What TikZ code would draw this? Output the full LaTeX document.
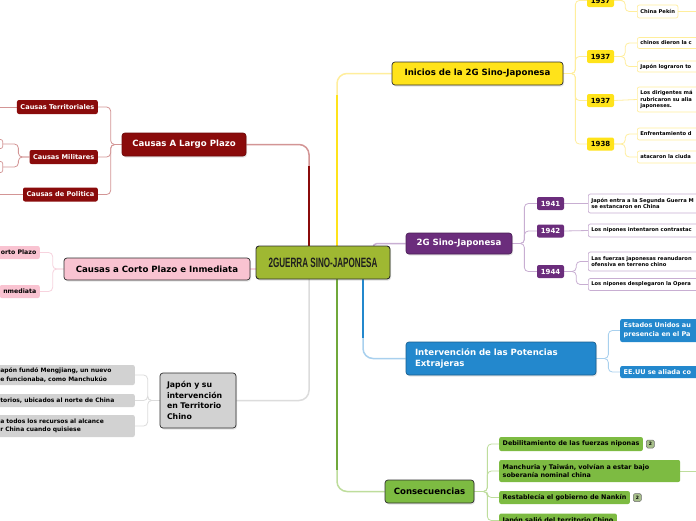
\documentclass[tikz,border=0pt]{standalone}
\usepackage{fontspec}
\usepackage{graphicx}
\setmainfont{DejaVu Sans}
\newfontfamily\titlefont{Liberation Sans}
\usetikzlibrary{positioning, backgrounds, shadows}
\definecolor{MapInk}{HTML}{1E1E1E}
\definecolor{MapEdge}{HTML}{2E2E2E}
\definecolor{MapOlive}{HTML}{9FB832}
\definecolor{MapRed}{HTML}{8A0B0B}
\definecolor{MapRedLine}{HTML}{D39595}
\definecolor{MapPink}{HTML}{F9C3D1}
\definecolor{MapPinkLine}{HTML}{F7D3DE}
\definecolor{MapGray}{HTML}{D2D2D2}
\definecolor{MapGrayLine}{HTML}{DCDCDC}
\definecolor{MapYellow}{HTML}{FFE31A}
\definecolor{MapYellowLine}{HTML}{FFEE9C}
\definecolor{MapPurple}{HTML}{6B2D7C}
\definecolor{MapPurpleLine}{HTML}{C8AED2}
\definecolor{MapBlue}{HTML}{2388CD}
\definecolor{MapBlueLine}{HTML}{A8D0EE}
\definecolor{MapGreen}{HTML}{7DBB42}
\definecolor{MapGreenLine}{HTML}{BEDD9C}
\definecolor{MapBadge}{HTML}{A7BF8A}
\newcommand\fsmain{\fontsize{8.6}{10.7}\selectfont\bfseries}
\newcommand\fsjp{\fontsize{7.8}{10.8}\selectfont\bfseries}
\newcommand\fsred{\fontsize{6.6}{8}\selectfont\bfseries}
\newcommand\fspink{\fontsize{6.2}{7.5}\selectfont\bfseries}
\newcommand\fsgray{\fontsize{6}{8.2}\selectfont\bfseries}
\newcommand\fsyear{\fontsize{7}{8}\selectfont\bfseries}
\newcommand\fsleaf{\fontsize{5.2}{6.4}\selectfont\bfseries}
\newcommand\fsblue{\fontsize{6.5}{8.8}\selectfont\bfseries}
\newcommand\fsgreen{\fontsize{6.4}{8.8}\selectfont\bfseries}
\tikzset{
    every node/.style={font=\fsmain},
    % central topic
    topic/.style={
        rectangle,
        rounded corners=3pt,
        draw=MapEdge,
        line width=0.9pt,
        inner sep=0pt,
        drop shadow={opacity=0.25, shadow xshift=1pt, shadow yshift=-1.5pt}
    },
    % main branch box
    branch/.style={
        rectangle,
        rounded corners=3pt,
        draw=MapEdge,
        line width=0.7pt,
        inner sep=0pt,
        font=\fsmain,
        drop shadow={opacity=0.2, shadow xshift=1pt, shadow yshift=-1.5pt}
    },
    % filled sub-topic
    subtopic/.style={
        rectangle,
        rounded corners=2pt,
        fill=#1,
        inner xsep=3.5pt,
        inner ysep=1pt,
        align=left
    },
    % year box
    yearbox/.style={
        rectangle,
        rounded corners=2pt,
        fill=#1,
        minimum width=27pt,
        minimum height=13pt,
        inner sep=0pt,
        font=\fsyear
    },
    % outlined leaf
    leaf/.style={
        rectangle,
        rounded corners=2pt,
        draw=#1,
        fill=white,
        line width=0.7pt,
        anchor=west,
        align=left,
        inner xsep=3pt,
        inner ysep=1pt,
        font=\fsleaf
    },
    % counter badge
    badge/.style={
        rectangle,
        rounded corners=1.5pt,
        draw=MapEdge!70,
        fill=MapBadge,
        line width=0.5pt,
        minimum size=8pt,
        inner sep=0pt,
        font=\fontsize{4.5}{5}\selectfont\bfseries
    },
    % connectors
    mainlink/.style={draw=#1, line width=1.5pt, rounded corners=10pt},
    sublink/.style={draw=#1, line width=0.8pt, rounded corners=4pt}
}
\begin{document}
\begin{tikzpicture}[x=1pt, y=-1pt]
    \useasboundingbox (0,0) rectangle (696,520);

    % Central topic
    \node (war) [topic, fill=MapOlive, minimum width=134pt, minimum height=33pt] at (323,262.5)
        {\titlefont\bfseries\fontsize{13.5}{14}\selectfont\color{MapInk}\scalebox{0.6}[1]{2GUERRA SINO-JAPONESA}};

    % Causas A Largo Plazo
    \node (lp) [branch, fill=MapRed, draw=MapRed!80!black, text=white, minimum width=124pt, minimum height=23pt] at (184,144.5) {Causas A Largo Plazo};
    \node (ct) [subtopic=MapRed, text=white, font=\fsred, minimum height=14pt, anchor=east] at (98,107) {Causas Territoriales};
    \node (cm) [subtopic=MapRed, text=white, font=\fsred, minimum height=14pt, anchor=east] at (98,157) {Causas Militares};
    \node (cpo) [subtopic=MapRed, text=white, font=\fsred, minimum height=14pt, anchor=east] at (98,194.5) {Causas de Politica};
    \node (mil1) [leaf=MapRedLine, anchor=east, minimum width=30pt, minimum height=9pt] at (3,144) {};
    \node (mil2) [leaf=MapRedLine, anchor=east, minimum width=30pt, minimum height=11pt] at (3,167) {};
    \coordinate (ctout) at (-10,107);
    \coordinate (cpoout) at (-10,194.5);

    % Causas a Corto Plazo
    \node (cp) [branch, fill=MapPink, minimum width=186pt, minimum height=22pt] at (157,269) {Causas a Corto Plazo e Inmediata};
    \node (cpa) [subtopic=MapPink, font=\fspink, minimum height=13pt, anchor=east] at (40,252.5) {orto Plazo};
    \node (cpb) [subtopic=MapPink, font=\fspink, minimum height=13pt, anchor=east] at (40,291.5) {nmediata};

    % Japon en territorio chino
    \node (jp) [branch, fill=MapGray, font=\fsjp, align=left, text width=62pt, minimum width=76pt, minimum height=55pt] at (198,400.5)
        {Japón y su\\intervención\\en Territorio\\Chino};
    \node (g1) [subtopic=MapGray, font=\fsgray, text width=131pt, minimum height=20pt, anchor=east] at (135,375)
        {apón fundó Mengjiang, un nuevo\\e funcionaba, como Manchukúo};
    \node (g2) [subtopic=MapGray, font=\fsgray, text width=131pt, minimum height=13pt, anchor=east] at (135,400.5)
        {torios, ubicados al norte de China};
    \node (g3) [subtopic=MapGray, font=\fsgray, text width=131pt, minimum height=22pt, anchor=east] at (135,426)
        {a todos los recursos al alcance\\r China cuando quisiese};

    % Inicios de la 2G
    \node (ini) [branch, fill=MapYellow, minimum width=171pt, minimum height=23pt] at (477.5,73.5) {Inicios de la 2G Sino-Japonesa};
    \node (ya) [yearbox=MapYellow] at (600.5,0.5) {1937};
    \node (yb) [yearbox=MapYellow] at (600.5,56.5) {1937};
    \node (yc) [yearbox=MapYellow] at (600.5,100.5) {1937};
    \node (yd) [yearbox=MapYellow] at (600.5,144) {1938};
    \coordinate (yaup) at (637,-20);
    \node (pek) [leaf=MapYellowLine, minimum height=13pt] at (637,11.5) {China Pekín};
    \coordinate (pekout) at (705,11.5);
    \node (chin) [leaf=MapYellowLine, text width=74pt, minimum height=11pt] at (637,43) {chinos dieron la c};
    \node (logr) [leaf=MapYellowLine, text width=74pt, minimum height=11pt] at (637,66.5) {Japón lograron to};
    \node (diri) [leaf=MapYellowLine, text width=74pt, minimum height=25pt] at (637,99.5) {Los dirigentes má\\rubricaron su alia\\japoneses.};
    \node (enfr) [leaf=MapYellowLine, text width=74pt, minimum height=12pt] at (637,134) {Enfrentamiento d};
    \node (atac) [leaf=MapYellowLine, text width=74pt, minimum height=12pt] at (637,157) {atacaron la ciuda};

    % 2G Sino-Japonesa
    \node (sj) [branch, fill=MapPurple, draw=MapPurple!70!black, text=white, minimum width=106pt, minimum height=21pt] at (459,243.5) {2G Sino-Japonesa};
    \node (p41) [yearbox=MapPurple, text=white] at (550.5,203.5) {1941};
    \node (p42) [yearbox=MapPurple, text=white] at (550.5,231) {1942};
    \node (p44) [yearbox=MapPurple, text=white] at (550.5,271.5) {1944};
    \node (entra) [leaf=MapPurpleLine, text width=104pt, minimum height=19pt] at (588,203.5) {Japón entra a la Segunda Guerra M\\se estancaron en China};
    \node (inten) [leaf=MapPurpleLine, text width=104pt, minimum height=13pt] at (588,230.5) {Los nipones intentaron contrastac};
    \node (reanu) [leaf=MapPurpleLine, text width=104pt, minimum height=19pt] at (588,261.5) {Las fuerzas japonesas reanudaron\\ofensiva en terreno chino};
    \node (despl) [leaf=MapPurpleLine, text width=104pt, minimum height=12pt] at (588,284.5) {Los nipones desplegaron la Opera};

    % Intervencion extranjera
    \node (ip) [branch, fill=MapBlue, draw=MapBlue!70!black, text=white, align=left, text width=172pt, minimum width=190pt, minimum height=33pt] at (501,358.5)
        {Intervención de las Potencias\\Extrajeras};
    \node (eua) [subtopic=MapBlue, text=white, font=\fsblue, anchor=west, text width=74pt, minimum height=23pt] at (620,330.5) {Estados Unidos au\\presencia en el Pa};
    \node (eub) [subtopic=MapBlue, text=white, font=\fsblue, anchor=west, text width=74pt, minimum height=12pt] at (620,372) {EE.UU se aliada co};

    % Consecuencias
    \node (cs) [branch, fill=MapGreen, minimum width=89pt, minimum height=23pt] at (429.5,491.5) {Consecuencias};
    \node (deb) [subtopic=MapGreen, font=\fsgreen, anchor=west, minimum height=14pt] at (499,444) {Debilitamiento de las fuerzas niponas};
    \node (deb2) [badge, right=3pt of deb] {2};
    \node (man) [subtopic=MapGreen, font=\fsgreen, anchor=west, text width=174pt, minimum height=22pt] at (499,471) {Manchuria y Taiwán, volvían a estar bajo\\soberanía nominal china};
    \coordinate (manout) at (705,471);
    \node (nan) [subtopic=MapGreen, font=\fsgreen, anchor=west, minimum height=13pt] at (499,497.5) {Restablecía el gobierno de Nankín};
    \node (nan2) [badge, right=3pt of nan] {2};
    \node (sal) [subtopic=MapGreen, font=\fsgreen, anchor=west, minimum height=14pt] at (499,520.5) {Japón salió del territorio Chino};

    \begin{scope}[on background layer]
        \fill[white] (0,0) rectangle (696,520);
        % links from the central topic
        \draw[mainlink=MapRedLine] (309,246) |- (lp.east);
        \draw[MapRed, line width=1.8pt] (309,246) -- (309,166);
        \draw[mainlink=MapYellowLine] (337,246) |- (ini.west);
        \draw[MapYellow, line width=1.6pt] (337,246) -- (337,95);
        \draw[mainlink=MapPurpleLine, rounded corners=4pt] (373,252) |- (sj.west);
        \draw[mainlink=MapPinkLine] (cp.east) -- (war.west |- cp.east);
        \draw[mainlink=MapGrayLine] (309,279) |- (jp.east);
        \draw[mainlink=MapBlueLine] (363,279) |- (ip.west);
        \draw[MapBlue, line width=1.6pt] (363,279) -- (363,338);
        \draw[mainlink=MapGreenLine] (337,279) |- (cs.west);
        \draw[MapGreen!90!black, line width=1.6pt] (337,279) -- (337,470);

        % branch brackets
        \foreach \c in {ct,cm,cpo}
            \draw[sublink=MapRedLine] (lp.west) -- ++(-11,0) |- (\c.east);
        \foreach \c in {mil1,mil2}
            \draw[sublink=MapRedLine] (cm.west) -- ++(-11,0) |- (\c.east);
        \draw[sublink=MapRedLine] (ct.west) -- (ctout);
        \draw[sublink=MapRedLine] (cpo.west) -- (cpoout);
        \foreach \c in {cpa,cpb}
            \draw[sublink=MapPinkLine] (cp.west) -- ++(-11,0) |- (\c.east);
        \foreach \c in {g1,g2,g3}
            \draw[sublink=MapGrayLine] (jp.west) -- ++(-12,0) |- (\c.east);

        \foreach \c in {ya,yb,yc,yd}
            \draw[sublink=MapYellowLine] (ini.east) -- ++(12,0) |- (\c.west);
        \draw[sublink=MapYellowLine] (ya.east) -- ++(11,0) |- (yaup);
        \draw[sublink=MapYellowLine] (ya.east) -- ++(11,0) |- (pek.west);
        \draw[sublink=MapYellowLine] (pek.east) -- (pekout);
        \foreach \c in {chin,logr}
            \draw[sublink=MapYellowLine] (yb.east) -- ++(11,0) |- (\c.west);
        \draw[sublink=MapYellowLine] (yc.east) -- (diri.west);
        \foreach \c in {enfr,atac}
            \draw[sublink=MapYellowLine] (yd.east) -- ++(11,0) |- (\c.west);

        \foreach \c in {p41,p42,p44}
            \draw[sublink=MapPurpleLine] (sj.east) -- ++(12,0) |- (\c.west);
        \draw[sublink=MapPurpleLine] (p41.east) -- (entra.west);
        \draw[sublink=MapPurpleLine] (p42.east) -- (inten.west);
        \foreach \c in {reanu,despl}
            \draw[sublink=MapPurpleLine] (p44.east) -- ++(12,0) |- (\c.west);

        \foreach \c in {eua,eub}
            \draw[sublink=MapBlueLine] (ip.east) -- ++(12,0) |- (\c.west);

        \foreach \c in {deb,man,nan,sal}
            \draw[sublink=MapGreenLine] (cs.east) -- ++(13,0) |- (\c.west);
        \draw[sublink=MapGreenLine] (man.east) -- (manout);
    \end{scope}
\end{tikzpicture}
\end{document}
